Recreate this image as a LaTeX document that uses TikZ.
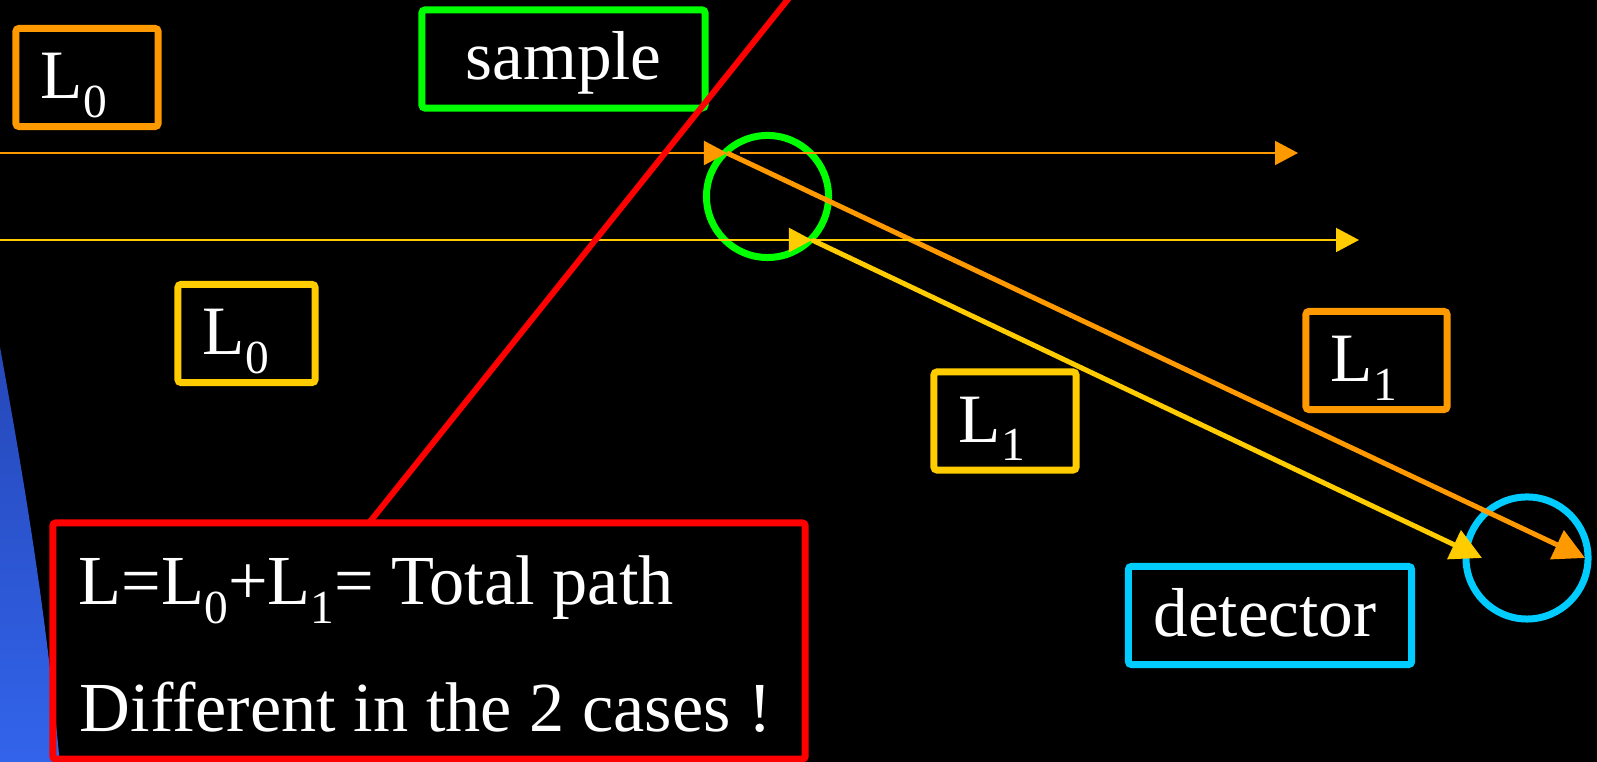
\documentclass[tikz,border=0pt]{standalone}
\usepackage{fontspec}
\setmainfont{Liberation Serif}
\usetikzlibrary{arrows.meta,positioning}

\definecolor{lorange}{HTML}{FF9900}
\definecolor{lyellow}{HTML}{FFCC00}
\definecolor{lgreen}{HTML}{00FF00}
\definecolor{lcyan}{HTML}{00CCFF}
\definecolor{lred}{HTML}{FF0000}
\definecolor{bluetop}{RGB}{38,72,185}
\definecolor{bluebot}{RGB}{50,100,235}

\newcommand{\lsub}[1]{\raisebox{-0.27em}{\fontsize{13.5pt}{14pt}\selectfont #1}}

\begin{document}
\begin{tikzpicture}[x=0.01cm,y=-0.01cm,
    font=\fontsize{19.7pt}{24pt}\selectfont,
    tag/.style={draw,line width=0.07cm,rounded corners=0.03cm,text=white,inner xsep=0.25cm,
      text height=0.52cm,text depth=0.1cm,minimum height=0.98cm,align=left},
    beam/.style={line width=0.02cm,-{Triangle[length=0.23cm,width=0.24cm]}},
    ray/.style={line width=0.05cm,-{Triangle[length=0.31cm,width=0.31cm]}},
    spot/.style={circle,draw,line width=0.07cm,minimum size=1.22cm,inner sep=0pt}]
      \useasboundingbox (0,0) rectangle (1597,762);
      \fill[black] (0,0) rectangle (1597,762);
      \shade[top color=bluetop,bottom color=bluebot] (0,347) .. controls (22,470) and (45,600) .. (60,765) -- (0,765) -- cycle;

      \node[tag,draw=lorange,text width=0.92cm] (lzeroA) at (87,77.5) {L\lsub{0}};
      \node[tag,draw=lgreen,text width=2.33cm,align=center] (sample) at (563.5,59) {sample};
      \node[tag,draw=lyellow,text width=0.87cm] (lzeroB) at (246.5,333.5) {L\lsub{0}};
      \node[tag,draw=lyellow,text width=0.92cm] (loneB) at (1005,421) {L\lsub{1}};
      \node[tag,draw=lorange,text width=0.91cm] (loneA) at (1376.5,360.5) {L\lsub{1}};
      \node[tag,draw=lcyan,text width=2.33cm] (detector) at (1270,615.5) {detector};

      \node[draw=lred,line width=0.07cm,rounded corners=0.03cm,minimum width=7.52cm,minimum height=2.36cm,inner sep=0pt] (sumbox) at (429,641) {};
      \node[anchor=base west,inner sep=0pt,text=white,font=\fontsize{20pt}{24pt}\selectfont] (sumtxt) at (78,605) {L=L\lsub{0}+L\lsub{1}= Total path};
      \node[anchor=base west,inner sep=0pt,text=white,font=\fontsize{20pt}{24pt}\selectfont] (difftxt) at (79,732) {Different in the 2 cases !};

      \node[spot,draw=lgreen] (target) at (767.5,196.5) {};
      \node[spot,draw=lcyan] (counter) at (1527,558) {};

      \coordinate (inA) at (0,153);
      \coordinate (hitA) at (727,153);
      \coordinate (outA) at (740,153);
      \coordinate (endA) at (1298,153);
      \coordinate (inB) at (0,240);
      \coordinate (hitB) at (812,240);
      \coordinate (endB) at (1359,240);
      \coordinate (detA) at (1585,558);
      \coordinate (detB) at (1482,558);
      \coordinate (rfoot) at (369,523);
      \coordinate (rhead) at (797,-12);

      \draw[ray,lorange] (hitA) -- (detA);
      \draw[ray,lyellow] (hitB) -- (detB);

      \draw[beam,lorange] (inA) -- (hitA);
      \draw[beam,lorange] (outA) -- (endA);
      \draw[beam,lyellow] (inB) -- (endB);
      \draw[beam,lyellow] (inB) -- (hitB);

      \draw[lred,line width=0.06cm] (rfoot) -- (rhead);
    \end{tikzpicture}
\end{document}
